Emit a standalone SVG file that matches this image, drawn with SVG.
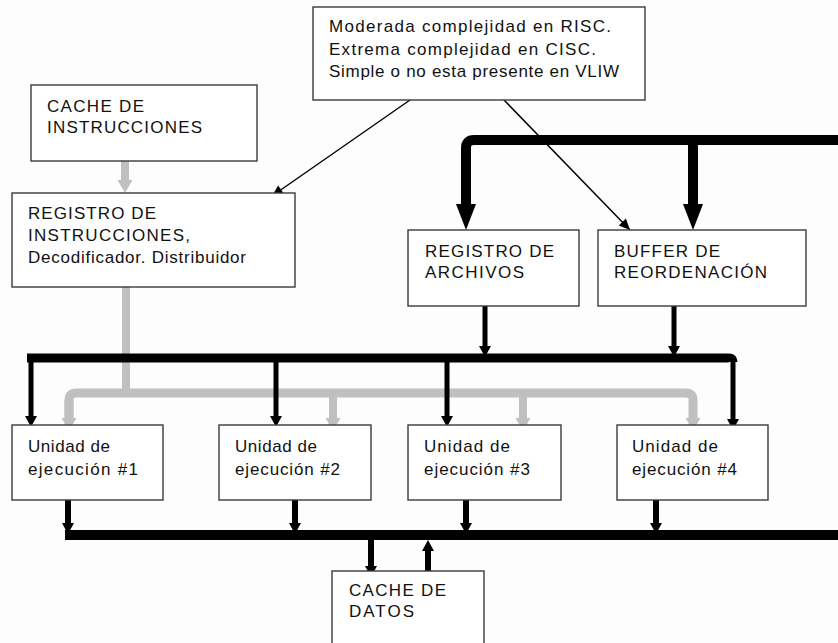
<svg xmlns="http://www.w3.org/2000/svg" width="838" height="643" viewBox="0 0 838 643">
  <style>
    .box { fill: #ffffff; stroke: #3a3a3a; stroke-width: 1.4; }
    .lbl { font-family: "Liberation Sans", Arial, sans-serif; font-size: 17px; fill: #111111; }
    .bus { fill: none; stroke: #000000; stroke-linejoin: round; }
    .gbus { fill: none; stroke: #c0c0c0; stroke-linejoin: round; }
    .thin { fill: none; stroke: #000000; stroke-width: 1.5; }
  </style>
  <defs>
    <!-- arrowheads placed at the end of each stem; the stem stops at the head's base -->
    <marker id="bigHead" markerUnits="userSpaceOnUse" markerWidth="30" markerHeight="24" refX="0" refY="0" orient="auto" overflow="visible">
      <path d="M0,-10 L26,0 L0,10 Z" fill="#000000"/>
    </marker>
    <marker id="blkHead" markerUnits="userSpaceOnUse" markerWidth="14" markerHeight="14" refX="0" refY="0" orient="auto" overflow="visible">
      <path d="M0,-6 L11,0 L0,6 Z" fill="#000000"/>
    </marker>
    <marker id="grayHead" markerUnits="userSpaceOnUse" markerWidth="14" markerHeight="16" refX="0" refY="0" orient="auto" overflow="visible">
      <path d="M0,-7.5 L13,0 L0,7.5 Z" fill="#c0c0c0"/>
    </marker>
    <marker id="thinHead" markerUnits="userSpaceOnUse" markerWidth="12" markerHeight="12" refX="11" refY="0" orient="auto" overflow="visible">
      <path d="M0,-5 L11,0 L0,5 Z" fill="#000000"/>
    </marker>
  </defs>

  <rect x="0" y="0" width="838" height="643" fill="#fdfdfd"/>

  <g id="connectors">
    <!-- instruction path (gray) -->
    <path class="gbus" stroke-width="8" d="M125,161 V180" marker-end="url(#grayHead)"/>
    <path class="gbus" stroke-width="8" d="M126,287 V393"/>
    <path class="gbus" stroke-width="9" d="M69,418 V400 Q69,393 76,393 H686 Q693,393 693,400 V418" marker-end="url(#grayHead)"/>
    <path class="gbus" stroke-width="9" d="M69,400 V418" marker-end="url(#grayHead)"/>
    <path class="gbus" stroke-width="8" d="M333,393 V418" marker-end="url(#grayHead)"/>
    <path class="gbus" stroke-width="8" d="M523,393 V418" marker-end="url(#grayHead)"/>

    <!-- upper result bus feeding register file and reorder buffer -->
    <path class="bus" stroke-width="10" d="M838,140 H474 Q466,140 466,148 V204" marker-end="url(#bigHead)"/>
    <path class="bus" stroke-width="10" d="M693,140 V204" marker-end="url(#bigHead)"/>

    <!-- operand bus to the execution units -->
    <path class="bus" stroke-width="5" d="M485,306 V346" marker-end="url(#blkHead)"/>
    <path class="bus" stroke-width="5" d="M674,306 V346" marker-end="url(#blkHead)"/>
    <path class="bus" stroke-width="9" d="M27,358 H729 Q733,358 733,362"/>
    <path class="bus" stroke-width="5" d="M733,358 V419" marker-end="url(#blkHead)"/>
    <path class="bus" stroke-width="5" d="M31,358 V416" marker-end="url(#blkHead)"/>
    <path class="bus" stroke-width="5" d="M276,358 V416" marker-end="url(#blkHead)"/>
    <path class="bus" stroke-width="5" d="M447,358 V416" marker-end="url(#blkHead)"/>

    <!-- result bus below the execution units -->
    <path class="bus" stroke-width="10" d="M65,535 H838"/>
    <path class="bus" stroke-width="6" d="M68,500 V523" marker-end="url(#blkHead)"/>
    <path class="bus" stroke-width="6" d="M295,500 V523" marker-end="url(#blkHead)"/>
    <path class="bus" stroke-width="6" d="M466,500 V523" marker-end="url(#blkHead)"/>
    <path class="bus" stroke-width="6" d="M656,500 V523" marker-end="url(#blkHead)"/>
    <path class="bus" stroke-width="6" d="M371,540 V566" marker-end="url(#blkHead)"/>
    <path class="bus" stroke-width="6" d="M428,571 V551" marker-end="url(#blkHead)"/>

    <!-- decode complexity note pointers -->
    <path class="thin" d="M410,100 L272,196" marker-end="url(#thinHead)"/>
    <path class="thin" d="M504,100 L630,230" marker-end="url(#thinHead)"/>
  </g>

  <g id="note">
    <rect class="box" x="313" y="7" width="332" height="93"/>
    <text class="lbl" x="329" y="32" textLength="282" lengthAdjust="spacing">Moderada complejidad en RISC.</text>
    <text class="lbl" x="329" y="55" textLength="267" lengthAdjust="spacing">Extrema complejidad en CISC.</text>
    <text class="lbl" x="329" y="77" textLength="290" lengthAdjust="spacing">Simple o no esta presente en VLIW</text>
  </g>

  <g id="icache">
    <rect class="box" x="31" y="85" width="226" height="76"/>
    <text class="lbl" x="47" y="112" textLength="97" lengthAdjust="spacing">CACHE DE</text>
    <text class="lbl" x="47" y="133" textLength="155" lengthAdjust="spacing">INSTRUCCIONES</text>
  </g>

  <g id="decoder">
    <rect class="box" x="12" y="193" width="283" height="94"/>
    <text class="lbl" x="28" y="219" textLength="128" lengthAdjust="spacing">REGISTRO DE</text>
    <text class="lbl" x="28" y="241" textLength="162" lengthAdjust="spacing">INSTRUCCIONES,</text>
    <text class="lbl" x="28" y="263" textLength="218" lengthAdjust="spacing">Decodificador. Distribuidor</text>
  </g>

  <g id="regfile">
    <rect class="box" x="408" y="230" width="171" height="76"/>
    <text class="lbl" x="425" y="257" textLength="129" lengthAdjust="spacing">REGISTRO DE</text>
    <text class="lbl" x="425" y="278" textLength="99" lengthAdjust="spacing">ARCHIVOS</text>
  </g>

  <g id="rob">
    <rect class="box" x="598" y="230" width="208" height="76"/>
    <text class="lbl" x="614" y="257" textLength="106" lengthAdjust="spacing">BUFFER DE</text>
    <text class="lbl" x="614" y="278" textLength="153" lengthAdjust="spacing">REORDENACIÓN</text>
  </g>

  <g id="eu1">
    <rect class="box" x="12" y="425" width="151" height="75"/>
    <text class="lbl" x="28" y="452" textLength="82" lengthAdjust="spacing">Unidad de</text>
    <text class="lbl" x="28" y="475" textLength="110" lengthAdjust="spacing">ejecución #1</text>
  </g>

  <g id="eu2">
    <rect class="box" x="219" y="425" width="152" height="75"/>
    <text class="lbl" x="235" y="452" textLength="82" lengthAdjust="spacing">Unidad de</text>
    <text class="lbl" x="235" y="475" textLength="105" lengthAdjust="spacing">ejecución #2</text>
  </g>

  <g id="eu3">
    <rect class="box" x="408" y="425" width="153" height="75"/>
    <text class="lbl" x="424" y="452" textLength="86" lengthAdjust="spacing">Unidad de</text>
    <text class="lbl" x="424" y="475" textLength="106" lengthAdjust="spacing">ejecución #3</text>
  </g>

  <g id="eu4">
    <rect class="box" x="617" y="425" width="151" height="75"/>
    <text class="lbl" x="632" y="452" textLength="86" lengthAdjust="spacing">Unidad de</text>
    <text class="lbl" x="632" y="475" textLength="105" lengthAdjust="spacing">ejecución #4</text>
  </g>

  <g id="dcache">
    <rect class="box" x="332" y="571" width="152" height="80"/>
    <text class="lbl" x="349" y="596" textLength="97" lengthAdjust="spacing">CACHE DE</text>
    <text class="lbl" x="349" y="617" textLength="65" lengthAdjust="spacing">DATOS</text>
  </g>
</svg>
